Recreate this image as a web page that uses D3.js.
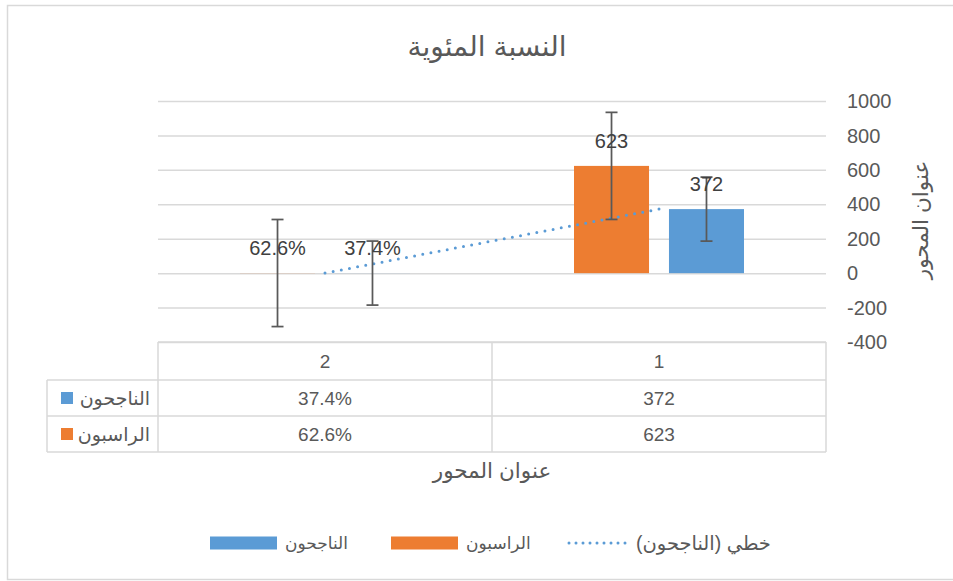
<!DOCTYPE html>
<html>
<head>
<meta charset="utf-8">
<script src="https://cdn.jsdelivr.net/npm/d3@7"></script>
<style>
  body { margin: 0; background: #fff; }
  text { font-family: "Liberation Sans", "DejaVu Sans", sans-serif; }
</style>
</head>
<body>
<div id="chart"></div>
<script>
// data
var categories = ["1", "2"];
var seriesNames = ["الناجحون", "الراسبون"];
var najihoon = [372, 0.374];
var raseboon = [623, 0.626];
var najihoonErr = [186, 186];
var raseboonErr = [311, 311];
var labelFormats = ["d", ".1%"];
var yTicks = [-400, -200, 0, 200, 400, 600, 800, 1000];
var colors = { "الناجحون": "#5b9bd5", "الراسبون": "#ed7d31" };

var width = 953, height = 581;
var svg = d3.select("#chart").append("svg")
    .attr("width", width).attr("height", height);

svg.append("rect").attr("width", width).attr("height", height).attr("fill", "#fff");
// chart border (right side runs off the picture)
svg.append("rect")
    .attr("x", 7.5).attr("y", 5.5)
    .attr("width", 960).attr("height", 574)
    .attr("fill", "none").attr("stroke", "#d9d9d9").attr("stroke-width", 1.5);

var plotLeft = 158, plotRight = 826, plotTop = 101, plotBottom = 342;

// category axis is reversed (RTL sheet): 1 on the right
var x = d3.scaleBand().domain(categories.slice().reverse()).range([plotLeft, plotRight]);
var x1 = d3.scaleBand().domain(["الراسبون", "الناجحون"])
    .range([82, x.bandwidth() - 82]).paddingInner(0.21);
var y = d3.scaleLinear().domain([-400, 1000]).range([plotBottom, plotTop]);

// gridlines
svg.append("g")
    .attr("transform", `translate(${plotRight},0)`)
    .call(d3.axisLeft(y).tickValues(yTicks).tickSize(plotRight - plotLeft).tickFormat(""))
    .call(g => g.select(".domain").remove())
    .selectAll("line").attr("stroke", "#d9d9d9").attr("stroke-width", 1.5);

// tick labels on the right
svg.append("g")
    .selectAll("text").data(yTicks).join("text")
    .attr("x", 847).attr("y", d => y(d)).attr("dy", "0.36em")
    .attr("font-size", 20).attr("fill", "#595959")
    .text(d => d);

// rows of series: value, error, name
var series = [
    { name: "الراسبون", values: raseboon, err: raseboonErr },
    { name: "الناجحون", values: najihoon, err: najihoonErr }
];
var points = [];
series.forEach(s => {
    categories.forEach((c, i) => {
        points.push({ name: s.name, cat: c, i: i, v: s.values[i], e: s.err[i] });
    });
});
var cx = d => x(d.cat) + x1(d.name) + x1.bandwidth() / 2;

svg.append("g").selectAll("rect").data(points).join("rect")
    .attr("x", d => x(d.cat) + x1(d.name))
    .attr("width", x1.bandwidth())
    .attr("y", d => y(Math.max(0, d.v)))
    .attr("height", d => Math.abs(y(d.v) - y(0)))
    .attr("fill", d => colors[d.name]);

// linear trendline for الناجحون (x = category number)
var xs = categories.map(Number), ys = najihoon;
var mx = d3.mean(xs), my = d3.mean(ys);
var slope = d3.sum(xs, (v, i) => (v - mx) * (ys[i] - my)) / d3.sum(xs, v => (v - mx) * (v - mx));
var icpt = my - slope * mx;
var trend = svg.append("path")
    .datum(categories.slice().reverse())
    .attr("d", d3.line()
        .x(c => x(c) + x.bandwidth() / 2)
        .y(c => y(icpt + slope * Number(c))))
    .attr("fill", "none").attr("stroke", "#5b9bd5")
    .attr("stroke-width", 3).attr("stroke-linecap", "round");
var tLen = trend.node().getTotalLength();
trend.attr("stroke-dasharray", `0 ${tLen / Math.round(tLen / 8.3)}`);

// error bars
var eb = svg.append("g").attr("stroke", "#595959").attr("stroke-width", 1.75);
points.forEach(d => {
    eb.append("line").attr("x1", cx(d)).attr("x2", cx(d)).attr("y1", y(d.v + d.e)).attr("y2", y(d.v - d.e));
    [d.v + d.e, d.v - d.e].forEach(t => {
        eb.append("line").attr("x1", cx(d) - 6).attr("x2", cx(d) + 6).attr("y1", y(t)).attr("y2", y(t));
    });
});

// data labels
svg.append("g").selectAll("text").data(points).join("text")
    .attr("x", cx).attr("y", d => y(Math.max(0, d.v)) - 25).attr("dy", "0.36em")
    .attr("text-anchor", "middle").attr("font-size", 20).attr("fill", "#404040")
    .text(d => d3.format(labelFormats[d.i])(d.v));

// data table under the plot
var tbl = svg.append("g").attr("stroke", "#d9d9d9").attr("stroke-width", 1.5);
var rowY = [342, 380, 416, 452];
tbl.append("line").attr("x1", plotLeft).attr("x2", plotRight).attr("y1", rowY[0]).attr("y2", rowY[0]);
rowY.slice(1).forEach(r => tbl.append("line").attr("x1", 47).attr("x2", plotRight).attr("y1", r).attr("y2", r));
[plotLeft, x("1"), plotRight].forEach(v => tbl.append("line").attr("x1", v).attr("x2", v).attr("y1", rowY[0]).attr("y2", rowY[3]));
tbl.append("line").attr("x1", 47).attr("x2", 47).attr("y1", rowY[1]).attr("y2", rowY[3]);

svg.append("g").selectAll("text").data(categories).join("text")
    .attr("x", c => x(c) + x.bandwidth() / 2).attr("y", (rowY[0] + rowY[1]) / 2).attr("dy", "0.36em")
    .attr("text-anchor", "middle").attr("font-size", 19).attr("fill", "#595959")
    .text(c => c);

var tableRows = [
    { name: "الناجحون", values: najihoon },
    { name: "الراسبون", values: raseboon }
];
tableRows.forEach((r, ri) => {
    var ym = (rowY[ri + 1] + rowY[ri + 2]) / 2;
    svg.append("rect").attr("x", 61).attr("y", ym - 6).attr("width", 12).attr("height", 12)
        .attr("fill", colors[r.name]);
    svg.append("text").attr("x", 150).attr("y", ym).attr("dy", "0.36em")
        .attr("direction", "rtl").attr("text-anchor", "start")
        .attr("font-size", 19).attr("fill", "#595959").text(r.name);
    categories.forEach((c, i) => {
        svg.append("text").attr("x", x(c) + x.bandwidth() / 2).attr("y", ym).attr("dy", "0.36em")
            .attr("text-anchor", "middle").attr("font-size", 19).attr("fill", "#595959")
            .text(d3.format(labelFormats[i])(r.values[i]));
    });
});

// titles
svg.append("text").attr("x", 487).attr("y", 56)
    .attr("text-anchor", "middle").attr("font-size", 28).attr("fill", "#595959")
    .text("النسبة المئوية");
svg.append("text").attr("x", 492).attr("y", 478)
    .attr("text-anchor", "middle").attr("font-size", 21.5).attr("fill", "#595959")
    .text("عنوان المحور");
svg.append("text")
    .attr("transform", "translate(920,220) rotate(-90)")
    .attr("text-anchor", "middle").attr("dy", "0.36em").attr("font-size", 21.5).attr("fill", "#595959")
    .text("عنوان المحور");

// legend
var ly = 543;
var legend = svg.append("g");
[["الناجحون", 210], ["الراسبون", 391]].forEach(([name, lx]) => {
    legend.append("rect").attr("x", lx).attr("y", ly - 6.5).attr("width", 67).attr("height", 13)
        .attr("fill", colors[name]);
    legend.append("text").attr("x", lx + 75).attr("y", ly).attr("dy", "0.36em")
        .attr("direction", "rtl").attr("text-anchor", "end")
        .attr("font-size", 17).attr("fill", "#595959").text(name);
});
legend.append("line").attr("x1", 569).attr("x2", 631).attr("y1", ly).attr("y2", ly)
    .attr("stroke", "#5b9bd5").attr("stroke-width", 3).attr("stroke-linecap", "round")
    .attr("stroke-dasharray", "0 7");
legend.append("text").attr("x", 636).attr("y", ly).attr("dy", "0.36em")
    .attr("direction", "rtl").attr("text-anchor", "end")
    .attr("font-size", 19.5).attr("fill", "#595959").text("خطي (الناجحون)");
</script>
</body>
</html>
